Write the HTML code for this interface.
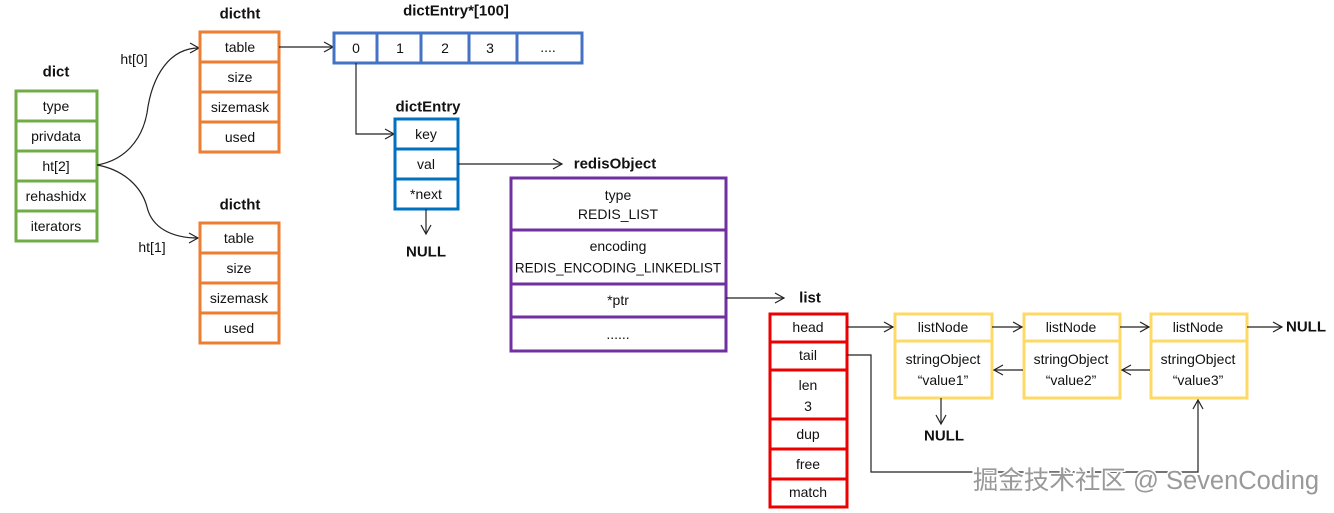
<!DOCTYPE html>
<html><head><meta charset="utf-8"><style>
html,body{margin:0;padding:0;background:#fff;}
svg{display:block;font-family:"Liberation Sans","Noto Sans CJK SC",sans-serif;}
text{font-size:14px;fill:#111;text-anchor:middle;dominant-baseline:central;}
.b{font-weight:bold;font-size:15px;}
.ln{stroke:#222;stroke-width:1.2;fill:none;}
</style></head><body>
<svg width="1334" height="513" viewBox="0 0 1334 513">
<defs><marker id="a" markerWidth="12" markerHeight="12" refX="10" refY="6" orient="auto" markerUnits="userSpaceOnUse"><path d="M1,1 L10,6 L1,11" fill="none" stroke="#222" stroke-width="1.2"/></marker></defs>

<!-- dict -->
<text x="56" y="72" class="b">dict</text>
<g fill="#fff" stroke="#70ad47" stroke-width="3">
<rect x="16" y="91" width="81" height="30"/><rect x="16" y="121" width="81" height="30"/><rect x="16" y="151" width="81" height="30"/><rect x="16" y="181" width="81" height="30"/><rect x="16" y="211" width="81" height="30"/></g>
<text x="56" y="106">type</text><text x="56" y="136">privdata</text><text x="56" y="166">ht[2]</text><text x="56" y="196">rehashidx</text><text x="56" y="226">iterators</text>

<path class="ln" d="M97,165 C125,160 142,140 147,113 C152,75 170,48 199,48" marker-end="url(#a)"/>
<path class="ln" d="M97,165 C125,170 142,188 147,207 C152,228 172,238 198,238" marker-end="url(#a)"/>
<text x="134" y="59">ht[0]</text><text x="152" y="247">ht[1]</text>

<!-- dictht -->
<text x="240" y="14" class="b">dictht</text>
<g fill="#fff" stroke="#ed7d31" stroke-width="3">
<rect x="200" y="32" width="79" height="30"/><rect x="200" y="62" width="79" height="30"/><rect x="200" y="92" width="79" height="30"/><rect x="200" y="122" width="79" height="30"/></g>
<text x="240" y="47">table</text><text x="240" y="77">size</text><text x="240" y="107">sizemask</text><text x="240" y="137">used</text>

<text x="240" y="205" class="b">dictht</text>
<g fill="#fff" stroke="#ed7d31" stroke-width="3">
<rect x="200" y="223" width="79" height="30"/><rect x="200" y="253" width="79" height="30"/><rect x="200" y="283" width="79" height="30"/><rect x="200" y="313" width="79" height="30"/></g>
<text x="239" y="238">table</text><text x="239" y="268">size</text><text x="239" y="298">sizemask</text><text x="239" y="328">used</text>

<!-- array -->
<text x="456" y="11" class="b">dictEntry*[100]</text>
<path class="ln" d="M279,47 L333,47" marker-end="url(#a)"/>
<g fill="#fff" stroke="#4472c4" stroke-width="3">
<rect x="334" y="33" width="43" height="30"/><rect x="377" y="33" width="44" height="30"/><rect x="421" y="33" width="48" height="30"/><rect x="469" y="33" width="48" height="30"/><rect x="517" y="33" width="65" height="30"/></g>
<text x="356" y="48">0</text><text x="400" y="48">1</text><text x="445" y="48">2</text><text x="490" y="48">3</text><text x="548" y="47">....</text>
<path class="ln" d="M356,63 L356,134 L394,134" marker-end="url(#a)"/>

<!-- dictEntry -->
<text x="428" y="107" class="b">dictEntry</text>
<g fill="#fff" stroke="#0070c0" stroke-width="3">
<rect x="395" y="119" width="63" height="30"/><rect x="395" y="149" width="63" height="30"/><rect x="395" y="179" width="63" height="30"/></g>
<text x="426" y="134">key</text><text x="426" y="164">val</text><text x="426" y="194">*next</text>
<path class="ln" d="M426,209 L426,234" marker-end="url(#a)"/>
<text x="426" y="252" class="b">NULL</text>
<path class="ln" d="M458,164 L562,164" marker-end="url(#a)"/>

<!-- redisObject -->
<text x="615" y="164" class="b">redisObject</text>
<g fill="#fff" stroke="#7030a0" stroke-width="3">
<rect x="511" y="178" width="215" height="52"/><rect x="511" y="230" width="215" height="54"/><rect x="511" y="284" width="215" height="33"/><rect x="511" y="317" width="215" height="34"/></g>
<text x="618" y="195">type</text><text x="618" y="214">REDIS_LIST</text>
<text x="618" y="246">encoding</text><text x="618" y="268" style="font-size:13.5px">REDIS_ENCODING_LINKEDLIST</text>
<text x="618" y="300">*ptr</text><text x="618" y="334">......</text>
<path class="ln" d="M726,298 L784,298" marker-end="url(#a)"/>

<!-- list -->
<text x="810" y="298" class="b">list</text>
<g fill="#fff" stroke="#e00" stroke-width="3">
<rect x="770" y="314" width="77" height="28"/><rect x="770" y="342" width="77" height="28"/><rect x="770" y="370" width="77" height="49"/><rect x="770" y="419" width="77" height="30"/><rect x="770" y="449" width="77" height="30"/><rect x="770" y="479" width="77" height="28"/></g>
<text x="808" y="327">head</text><text x="808" y="355">tail</text><text x="808" y="385">len</text><text x="808" y="406">3</text><text x="808" y="434">dup</text><text x="808" y="464">free</text><text x="808" y="492">match</text>

<!-- listNodes -->
<g fill="#fff" stroke="#ffd966" stroke-width="3">
<rect x="895" y="314" width="97" height="27"/><rect x="895" y="341" width="97" height="57"/>
<rect x="1024" y="314" width="96" height="27"/><rect x="1024" y="341" width="96" height="57"/>
<rect x="1151" y="314" width="96" height="27"/><rect x="1151" y="341" width="96" height="57"/></g>
<text x="943" y="327">listNode</text><text x="943" y="359">stringObject</text><text x="943" y="380">“value1”</text>
<text x="1071" y="327">listNode</text><text x="1071" y="359">stringObject</text><text x="1071" y="380">“value2”</text>
<text x="1198" y="327">listNode</text><text x="1198" y="359">stringObject</text><text x="1198" y="380">“value3”</text>

<path class="ln" d="M847,327 L893,327" marker-end="url(#a)"/>
<path class="ln" d="M992,327 L1022,327" marker-end="url(#a)"/>
<path class="ln" d="M1120,327 L1149,327" marker-end="url(#a)"/>
<path class="ln" d="M1247,327 L1282,327" marker-end="url(#a)"/>
<text x="1306" y="327" class="b">NULL</text>
<path class="ln" d="M1023,370 L994,370" marker-end="url(#a)"/>
<path class="ln" d="M1150,370 L1122,370" marker-end="url(#a)"/>
<path class="ln" d="M941,398 L941,424" marker-end="url(#a)"/>
<text x="944" y="436" class="b">NULL</text>
<path class="ln" d="M847,355 L871,355 L871,472 L1198,472 L1198,400" marker-end="url(#a)"/>

<text x="1146" y="481" style="font-size:25.5px;fill:#999;stroke:#fff;stroke-width:3;paint-order:stroke;">掘金技术社区 @ SevenCoding</text>
</svg>
</body></html>
